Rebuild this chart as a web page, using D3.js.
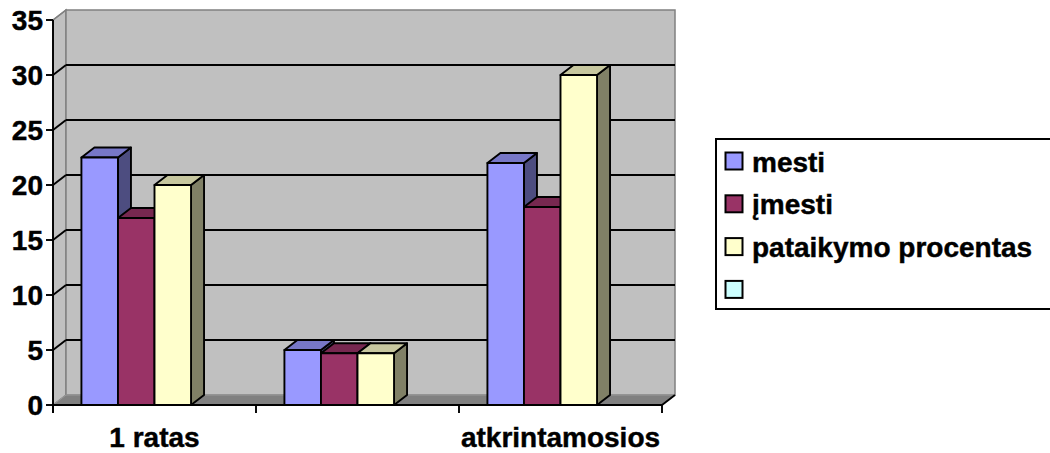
<!DOCTYPE html>
<html>
<head>
<meta charset="utf-8">
<script src="https://cdn.jsdelivr.net/npm/d3@7"></script>
<style>
  html, body { margin: 0; padding: 0; background: #ffffff; }
  svg { display: block; }
  text { font-family: "Liberation Sans", Arial, sans-serif; font-weight: bold; fill: #000; stroke: #000; stroke-width: 0.45px; }
</style>
</head>
<body>
<svg id="chart" width="1050" height="453"></svg>
<script>
// Categories and series
const categories = ["1 ratas", "", "atkrintamosios"];
const seriesNames = ["mesti", "įmesti", "pataikymo procentas", ""];
const seriesColors = ["#9999ff", "#993366", "#ffffcc", "#ccffff"];
const mesti = [22.5, 5, 22];
const imesti = [17, 4.7, 18];
const pataikymoProcentas = [20, 4.7, 30];
const yTicks = [0, 5, 10, 15, 20, 25, 30, 35];

const seriesValues = [mesti, imesti, pataikymoProcentas];

(function () {
  const svg = d3.select("#chart");

  // plot geometry (front plane) and 3D depth offset
  const pLeft = 53, pRight = 662, pBottom = 405, pTop = 20;
  const DX = 13, DY = -10;
  const LW = 1.9;

  const x = d3.scaleBand().domain(d3.range(categories.length)).range([pLeft, pRight]).padding(0);
  const y = d3.scaleLinear().domain([0, 35]).range([pBottom, pTop]);
  const bw = x.bandwidth();
  const barOffset = 0.14 * bw, barW = 0.18 * bw;

  function shade(c, k) {
    const r = d3.rgb(c);
    return d3.rgb(r.r * k, r.g * k, r.b * k).formatHex();
  }
  const poly = pts => pts.map(p => p.join(",")).join(" ");

  const g = svg.append("g");

  // side wall
  g.append("polygon")
    .attr("points", poly([[pLeft, y(0)], [pLeft, y(35)], [pLeft + DX, y(35) + DY], [pLeft + DX, y(0) + DY]]))
    .attr("fill", "#c0c0c0").attr("stroke", "#808080").attr("stroke-width", 1.5);

  // back wall
  g.append("rect")
    .attr("x", pLeft + DX).attr("y", y(35) + DY)
    .attr("width", pRight - pLeft).attr("height", y(0) - y(35))
    .attr("fill", "#c0c0c0").attr("stroke", "#808080").attr("stroke-width", 1.5);

  // floor
  g.append("polygon")
    .attr("points", poly([[pLeft, y(0)], [pRight, y(0)], [pRight + DX, y(0) + DY], [pLeft + DX, y(0) + DY]]))
    .attr("fill", "#808080").attr("stroke", "#999999").attr("stroke-width", 1);

  // gridlines: back wall plus the diagonal across the side wall
  const gridTicks = yTicks.filter(t => t > 0 && t < 35);
  g.selectAll("line.grid").data(gridTicks).join("line")
    .attr("class", "grid")
    .attr("x1", pLeft + DX).attr("x2", pRight + DX)
    .attr("y1", d => y(d) + DY).attr("y2", d => y(d) + DY)
    .attr("stroke", "#000").attr("stroke-width", LW);
  g.selectAll("line.gridside").data(gridTicks).join("line")
    .attr("class", "gridside")
    .attr("x1", pLeft).attr("x2", pLeft + DX)
    .attr("y1", d => y(d)).attr("y2", d => y(d) + DY)
    .attr("stroke", "#000").attr("stroke-width", LW);
  g.append("line")
    .attr("x1", pLeft).attr("x2", pLeft + DX)
    .attr("y1", y(35)).attr("y2", y(35) + DY)
    .attr("stroke", "#808080").attr("stroke-width", 1.5);

  // bars, painted left to right so nearer faces overlap
  categories.forEach((cat, ci) => {
    seriesValues.forEach((vals, si) => {
      const v = vals[ci];
      const x0 = x(ci) + barOffset + si * barW, x1 = x0 + barW;
      const yt = y(v), yb = y(0);
      const col = seriesColors[si];
      const bar = g.append("g").attr("stroke", "#000").attr("stroke-width", LW).attr("stroke-linejoin", "round");
      bar.append("polygon")
        .attr("points", poly([[x1, yt], [x1 + DX, yt + DY], [x1 + DX, yb + DY], [x1, yb]]))
        .attr("fill", shade(col, 0.5));
      bar.append("polygon")
        .attr("points", poly([[x0, yt], [x0 + DX, yt + DY], [x1 + DX, yt + DY], [x1, yt]]))
        .attr("fill", shade(col, 0.78));
      bar.append("rect")
        .attr("x", x0).attr("y", yt).attr("width", barW).attr("height", yb - yt)
        .attr("fill", col);
    });
  });

  // value axis
  g.append("line").attr("x1", pLeft).attr("x2", pLeft).attr("y1", y(0) + 8).attr("y2", y(35))
    .attr("stroke", "#000").attr("stroke-width", LW);
  g.selectAll("line.ytick").data(yTicks).join("line")
    .attr("class", "ytick")
    .attr("x1", pLeft - 7).attr("x2", pLeft)
    .attr("y1", d => y(d)).attr("y2", d => y(d))
    .attr("stroke", "#000").attr("stroke-width", LW);
  g.selectAll("text.ylab").data(yTicks).join("text")
    .attr("class", "ylab")
    .attr("x", 43).attr("y", d => y(d) + 10)
    .attr("text-anchor", "end").attr("font-size", 28)
    .text(d => d);

  // category axis
  g.append("line").attr("x1", pLeft).attr("x2", pRight).attr("y1", y(0)).attr("y2", y(0))
    .attr("stroke", "#000").attr("stroke-width", LW);
  g.append("line").attr("x1", pRight).attr("x2", pRight + DX).attr("y1", y(0)).attr("y2", y(0) + DY)
    .attr("stroke", "#000").attr("stroke-width", LW);
  const boundaries = d3.range(categories.length).map(i => x(i)).concat([pRight]);
  g.selectAll("line.xtick").data(boundaries).join("line")
    .attr("class", "xtick")
    .attr("x1", d => d).attr("x2", d => d)
    .attr("y1", y(0)).attr("y2", y(0) + 8)
    .attr("stroke", "#000").attr("stroke-width", LW);
  g.selectAll("text.xlab").data(categories).join("text")
    .attr("class", "xlab")
    .attr("x", (d, i) => x(i) + bw / 2).attr("y", 446.5)
    .attr("text-anchor", "middle").attr("font-size", 28)
    .text(d => d);

  // legend
  const lg = svg.append("g");
  lg.append("rect").attr("x", 716).attr("y", 139).attr("width", 345).attr("height", 170)
    .attr("fill", "#fff").attr("stroke", "#000").attr("stroke-width", 2);
  const items = lg.selectAll("g.item").data(seriesNames).join("g")
    .attr("class", "item")
    .attr("transform", (d, i) => `translate(0, ${i * 42.8})`);
  items.append("rect").attr("x", 725.5).attr("y", 152.5).attr("width", 17).attr("height", 17)
    .attr("fill", (d, i) => seriesColors[i]).attr("stroke", "#000").attr("stroke-width", 2);
  items.append("text").attr("x", 752).attr("y", 171.5).attr("font-size", 28).text(d => d);
})();
</script>
</body>
</html>
